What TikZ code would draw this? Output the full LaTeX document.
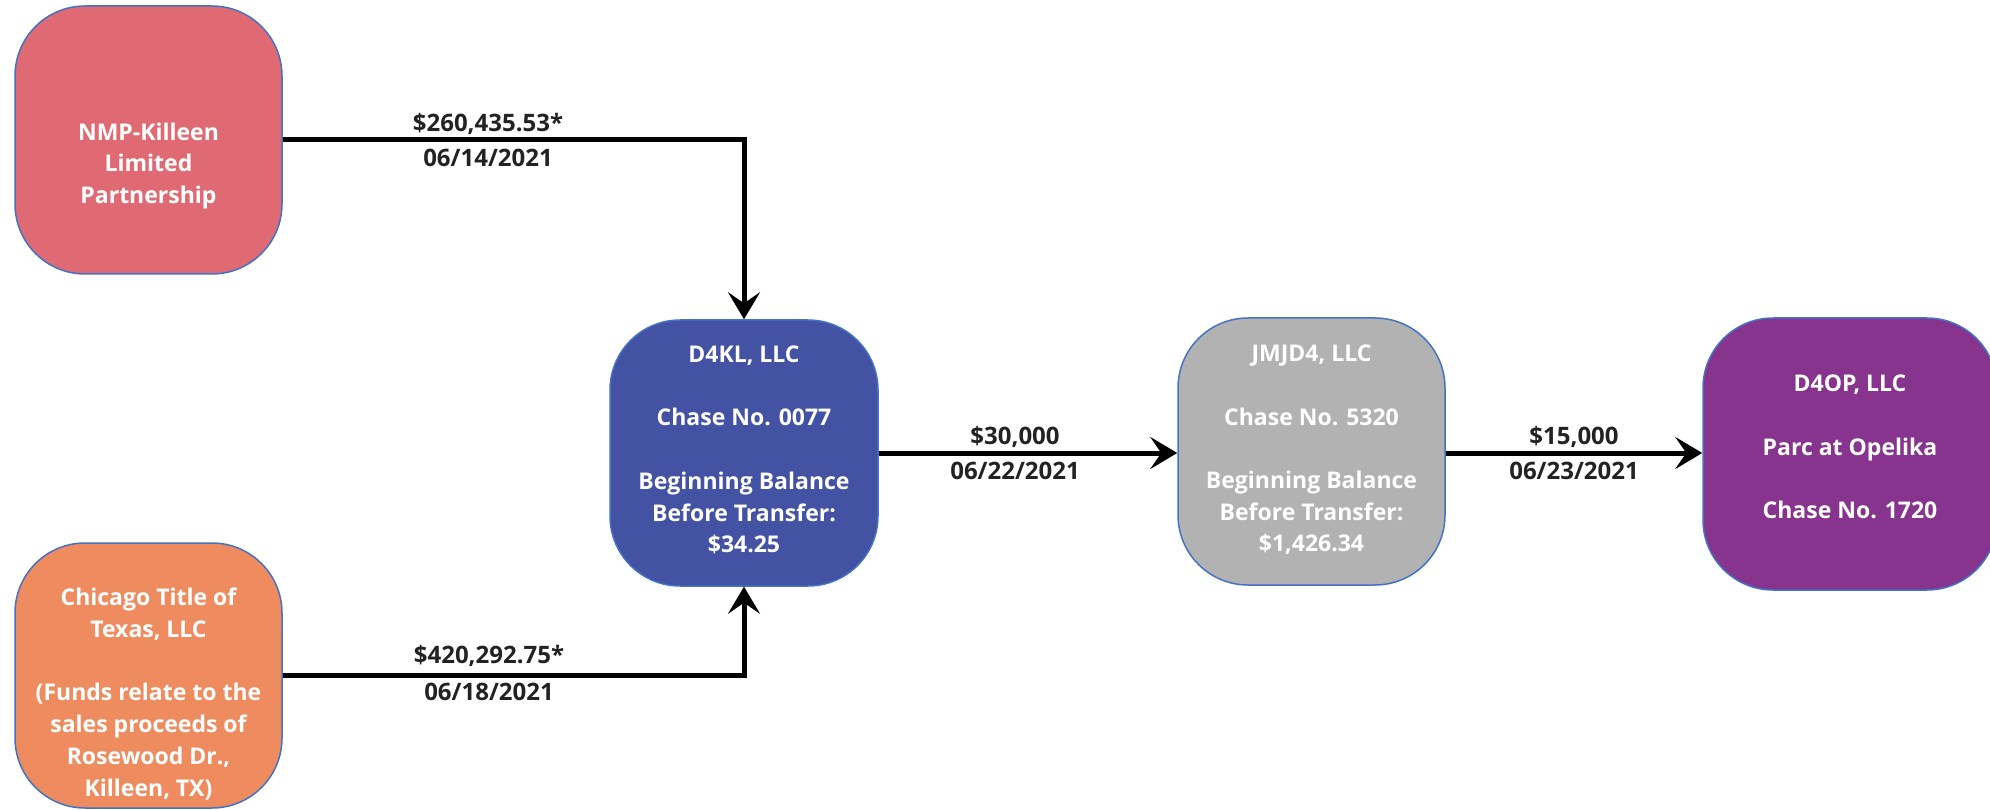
\documentclass[tikz,border=0pt]{standalone}
\usepackage{fontspec}
\setmainfont{Open Sans}
\usetikzlibrary{arrows.meta}
\definecolor{cnmp}{HTML}{E06A73}
\definecolor{cchi}{HTML}{EE8C5F}
\definecolor{cdkl}{HTML}{4452A3}
\definecolor{cjm}{HTML}{B2B2B2}
\definecolor{cop}{HTML}{87348E}
\definecolor{cedge}{HTML}{4472C4}
\definecolor{clab}{HTML}{222222}
\begin{document}
\begin{tikzpicture}[x=1pt,y=-1pt,
  box/.style={draw=cedge, line width=1.5pt, rounded corners=70pt, inner sep=0pt},
  btext/.style={align=center, text=white, inner sep=0pt, font=\fontsize{23}{31.7}\selectfont\bfseries},
  flow/.style={line width=5pt, -{Stealth[length=27pt,width=32pt,inset=11pt]}},
  lab/.style={font=\fontsize{24}{31.7}\selectfont\bfseries, text=clab, inner sep=0pt}]
\useasboundingbox (0,0) rectangle (1990,810);
\begin{scope}
\clip (0,0) rectangle (1990,810);
\node[box, fill=cnmp, minimum width=267pt, minimum height=268pt] (nmp) at (148.5,140) {};
\node[box, fill=cchi, minimum width=267pt, minimum height=265pt] (chi) at (148.5,675.5) {};
\node[box, fill=cdkl, minimum width=268pt, minimum height=266pt] (dkl) at (744,453) {};
\node[box, fill=cjm, minimum width=267pt, minimum height=267pt] (jm) at (1311.5,451.5) {};
\node[box, fill=cop, minimum width=294pt, minimum height=272pt] (op) at (1850,454) {};
\end{scope}
\node[btext] (nmpT) at (148.5,166) {NMP-Killeen\\Limited\\Partnership};
\node[btext] (chiT) at (148.5,694) {Chicago Title of\\Texas, LLC\\[31.7pt](Funds relate to the\\sales proceeds of\\Rosewood Dr.,\\Killeen, TX)};
\node[btext] (dklT) at (744,450) {D4KL, LLC\\[31.7pt]Chase No. 0077\\[31.7pt]Beginning Balance\\Before Transfer:\\\$34.25};
\node[btext] (jmT) at (1311.5,450) {JMJD4, LLC\\[31.7pt]Chase No. 5320\\[31.7pt]Beginning Balance\\Before Transfer:\\\$1,426.34};
\node[btext] (opT) at (1850,447) {D4OP, LLC\\[31.7pt]Parc at Opelika\\[31.7pt]Chase No. 1720};
\draw[flow] (nmp.east) -| (dkl.north);
\draw[flow] (chi.east) -| (dkl.south);
\draw[flow] (dkl.east) -- (dkl.east -| jm.west);
\draw[flow] (jm.east |- dkl.east) -- (dkl.east -| op.west);
\node[lab] (l1a) at (488,124) {\$260,435.53*};
\node[lab] (l1b) at (488,158) {06/14/2021};
\node[lab] (l2a) at (489,656) {\$420,292.75*};
\node[lab] (l2b) at (489,692) {06/18/2021};
\node[lab] (l3a) at (1015,437) {\$30,000};
\node[lab] (l3b) at (1015,471) {06/22/2021};
\node[lab] (l4a) at (1574,437) {\$15,000};
\node[lab] (l4b) at (1574,471) {06/23/2021};
\end{tikzpicture}
\end{document}
